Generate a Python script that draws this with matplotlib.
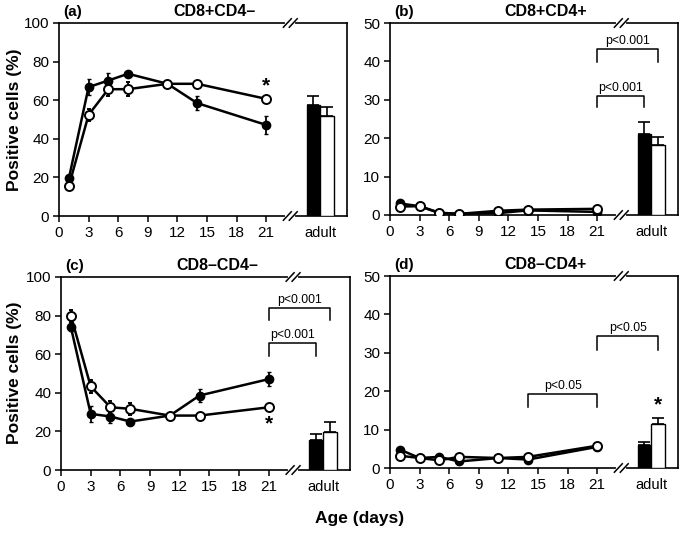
import numpy as np
import matplotlib
matplotlib.use("Agg")
import matplotlib.pyplot as plt
import matplotlib.transforms as mtransforms

plt.rcParams['font.family'] = ['Liberation Sans', 'DejaVu Sans']

days = [1, 3, 5, 7, 11, 14, 21]
xticks = [0, 3, 6, 9, 12, 15, 18, 21]

# panel (a) CD8+CD4-
a_black = [19.5, 66.8, 70.2, 73.7, 68.5, 58.5, 47.2]
a_black_err = [1.5, 4.0, 4.0, 1.5, 1.0, 3.5, 4.5]
a_open = [15.6, 52.4, 65.7, 65.7, 68.5, 68.5, 60.7]
a_open_err = [2.0, 3.0, 3.5, 3.5, 1.0, 1.0, 1.0]
a_adult = [57.5, 51.8]
a_adult_err = [4.8, 4.8]

# panel (b) CD8+CD4+
b_black = [3.0, 2.3, 0.5, 0.3, 0.5, 1.2, 0.8]
b_black_err = [0.6, 0.4, 0.3, 0.2, 0.3, 0.3, 0.3]
b_open = [2.2, 2.3, 0.6, 0.3, 1.1, 1.4, 1.6]
b_open_err = [0.6, 0.4, 0.3, 0.2, 0.3, 0.3, 0.3]
b_adult = [21.0, 18.1]
b_adult_err = [3.1, 2.3]

# panel (c) CD8-CD4-
c_black = [74.0, 29.1, 27.7, 25.1, 28.2, 38.6, 47.1]
c_black_err = [2.0, 4.0, 3.5, 1.5, 1.0, 3.5, 3.5]
c_open = [79.9, 43.3, 32.5, 31.7, 28.2, 28.2, 32.5]
c_open_err = [3.0, 3.5, 3.0, 3.0, 1.0, 1.0, 1.0]
c_adult = [15.6, 19.9]
c_adult_err = [3.1, 4.8]

# panel (d) CD8-CD4+
d_black = [4.8, 2.6, 2.9, 1.7, 2.6, 2.2, 5.5]
d_black_err = [0.4, 0.3, 0.3, 0.3, 0.3, 0.3, 0.3]
d_open = [3.2, 2.6, 2.0, 2.9, 2.6, 2.9, 5.8]
d_open_err = [0.4, 0.3, 0.3, 0.3, 0.3, 0.3, 0.3]
d_adult = [6.1, 11.4]
d_adult_err = [0.7, 1.6]

W, H = 685, 533
fig = plt.figure(figsize=(W / 100, H / 100), dpi=100)


def rect(l, r, t, b):
    return [l / W, 1 - b / H, (r - l) / W, (b - t) / H]


bar_x = [25.8, 27.2]
brk = 23.45


def panel(pos, tag, title, ymax, ystep, black, black_err, opn, opn_err,
          adult, adult_err, brackets, stars):
    ax = fig.add_axes(rect(*pos))
    ax.set_xlim(0, 29.2)
    ax.set_ylim(0, ymax)
    lw = 1.2
    for s in ax.spines.values():
        s.set_linewidth(lw)
    ax.errorbar(days, black, yerr=black_err, color='black', lw=1.8,
                marker='o', ms=6, mfc='black', mec='black', capsize=1.5,
                elinewidth=1.3, zorder=3)
    ax.errorbar(days, opn, yerr=opn_err, color='black', lw=1.8,
                marker='o', ms=6.5, mfc='white', mec='black', mew=1.4,
                capsize=1.5, elinewidth=1.3, zorder=4)
    ax.bar(bar_x[0], adult[0], width=1.4, color='black', edgecolor='black',
           lw=1.0, zorder=3)
    ax.bar(bar_x[1], adult[1], width=1.4, color='white', edgecolor='black',
           lw=1.0, zorder=3)
    for x, v, e in zip(bar_x, adult, adult_err):
        ax.errorbar([x], [v], yerr=[[0], [e]], color='black', capsize=4.5,
                    elinewidth=1.2, capthick=1.2, fmt='none', zorder=4)

    ax.set_xticks(xticks + [26.5])
    ax.set_xticklabels([str(t) for t in xticks] + ['adult'])
    ax.xaxis.get_major_ticks()[-1].tick1line.set_visible(False)
    ax.set_yticks(np.arange(0, ymax + 1, ystep))
    ax.tick_params(direction='out', length=4, width=1.1, labelsize=11,
                   pad=3)
    for lab in ax.get_xticklabels()[-1:]:
        lab.set_fontsize(10.5)

    # axis break marks on top and bottom spines
    trans = mtransforms.blended_transform_factory(ax.transData, ax.transAxes)
    for yb in (0, 1):
        ax.plot([brk - 0.3, brk + 0.3], [yb, yb], color='white', lw=3,
                transform=trans, clip_on=False, zorder=5)
        for dx in (-0.3, 0.3):
            ax.plot([brk + dx - 0.4, brk + dx + 0.4], [yb - 0.022, yb + 0.022],
                    color='black', lw=1.1, transform=trans, clip_on=False,
                    zorder=6)

    for x1, x2, y, leg, label in brackets:
        ax.plot([x1, x1, x2, x2], [y - leg, y, y, y - leg], color='black',
                lw=1.1, zorder=2)
        ax.text((x1 + x2) / 2, y + ymax * 0.01, label, ha='center',
                va='bottom', fontsize=8.8)
    for x, y in stars:
        ax.text(x, y, '*', ha='center', va='center', fontsize=15,
                fontweight='bold')

    ax.text(0.4, 1.035, tag, transform=trans, ha='left', va='baseline',
            fontsize=11, fontweight='bold')
    ax.text(15.8, 1.035, title, transform=trans, ha='center', va='baseline',
            fontsize=11.5, fontweight='bold')
    return ax


panel((59, 347, 23, 216), '(a)', 'CD8+CD4\u2013', 100, 20,
      a_black, a_black_err, a_open, a_open_err, a_adult, a_adult_err,
      [], [(21, 67.5)])
panel((390, 678, 23, 215), '(b)', 'CD8+CD4+', 50, 10,
      b_black, b_black_err, b_open, b_open_err, b_adult, b_adult_err,
      [(21, 27.2, 43.3, 3.4, 'p<0.001'), (21, 25.8, 30.9, 2.7, 'p<0.001')],
      [])
panel((61, 350, 277, 470), '(c)', 'CD8\u2013CD4\u2013', 100, 20,
      c_black, c_black_err, c_open, c_open_err, c_adult, c_adult_err,
      [(21, 27.2, 83.9, 6.0, 'p<0.001'), (21, 25.8, 65.7, 6.5, 'p<0.001')],
      [(21, 24.0)])
panel((390, 678, 276, 468), '(d)', 'CD8\u2013CD4+', 50, 10,
      d_black, d_black_err, d_open, d_open_err, d_adult, d_adult_err,
      [(21, 27.2, 34.4, 3.6, 'p<0.05'), (14, 21, 19.3, 3.3, 'p<0.05')],
      [(27.2, 16.5)])

fig.text(15 / W, 1 - 120 / H, 'Positive cells (%)', rotation=90,
         ha='center', va='center', fontsize=12.5, fontweight='bold')
fig.text(15 / W, 1 - 373 / H, 'Positive cells (%)', rotation=90,
         ha='center', va='center', fontsize=12.5, fontweight='bold')
fig.text(360 / W, 1 - 519 / H, 'Age (days)', ha='center', va='center',
         fontsize=12.5, fontweight='bold')

fig.savefig('out.png', dpi=100)
